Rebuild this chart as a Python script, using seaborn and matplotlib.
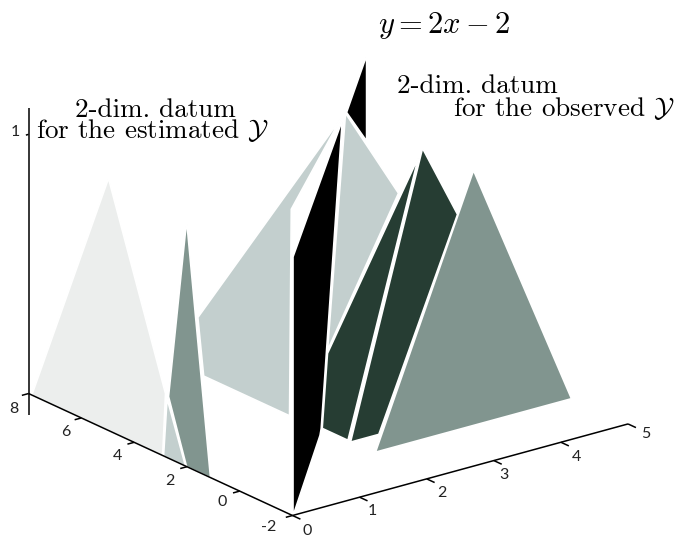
import matplotlib
matplotlib.use("Agg")
import matplotlib.pyplot as plt
import seaborn as sns
from mpl_toolkits.mplot3d import proj3d
from mpl_toolkits.mplot3d.art3d import Poly3DCollection

# ---- axis values
x_ticks = [0, 1, 2, 3, 4, 5]
y_ticks = [-2, 0, 2, 4, 6, 8]
z_ticks = [1]
z_span = [-0.084, 1.10]

# ---- polygon vertices (x, y, z)
black_top_x = [3.74, 5.14, 5.14]
black_top_y = [5.48, 8.28, 8.28]
black_top_z = [0.941, 0.93, 0.60]

mid_left_x = [2, 2, 2, 2, 2]
mid_left_y = [6.69, 1.246, 3.15, 3.216, 6.47]
mid_left_z = [0.216, 1.244, 0.80, 0.0, 0.0]

mid_right_x = [2, 2, 2]
mid_right_y = [1.095, -0.913, 1.777]
mid_right_z = [1.267, 1.053, 0.32]

pale_x = [0, 0, 0, 0]
pale_y = [7.9, 4.99, 2.83, 2.94]
pale_z = [0.0, 0.974, 0.245, 0.0]

mid_small_x = [0, 0, 0]
mid_small_y = [2.77, 2.07, 2.905]
mid_small_z = [0.229, 0.0, 0.0]

sage_narrow_x = [0, 0, 0, 0]
sage_narrow_y = [2.03, 2.716, 2.03, 1.125]
sage_narrow_z = [0.951, 0.239, 0.0, 0.0]

black_low_x = [0, 0, 3.44, 1.972, 1.888]
black_low_y = [-2, -2, 4.88, 1.944, 1.776]
black_low_z = [0.0, 1.0, 0.96, 0.013, 0.0]

dark_left_x = [2.05, 2.05, 2.05, 2.05]
dark_left_y = [-1.54, 1.905, 2.106, 1.13]
dark_left_z = [1.218, 0.299, 0.0, 0.0]

dark_right_x = [3.11, 3.632, 2.459, 2.037]
dark_right_y = [1, 1, 1, 1]
dark_right_z = [1.058, 0.766, 0.0, 0.0]

sage_x = [2.067, 3.528, 4.988]
sage_y = [0.13, 0.13, 0.13]
sage_z = [0.0, 0.984, 0.0]

# ---- colours
PALE = "#ECEEED"
MID = "#C3CFCE"
SAGE = "#81958F"
DARK = "#263D33"
BLACK = "#000000"

sns.set_theme(style="white")
plt.rcParams["mathtext.fontset"] = "cm"

W, H = 690, 536
fig = plt.figure(figsize=(W / 100, H / 100), dpi=100)
pos = [0, -(W - H) / 2 / H, 1, W / H]
ax = fig.add_axes(pos, projection="3d", proj_type="ortho", computed_zorder=False)
ax.set_xlim(0, 5, view_margin=0)
ax.set_ylim(-2, 8, view_margin=0)
ax.set_zlim(z_span[0], z_span[1], view_margin=0)
ax.view_init(elev=20.8, azim=232.46)
ax.set_axis_off()
ax.patch.set_alpha(0)
aspect = (423.1, 433.1, 328.2)


def to_px(x, y, z):
    X, Y, _ = proj3d.proj_transform(x, y, z, ax.get_proj())
    return ax.transData.transform((X, Y))


# fit the box to the figure
zoom = 1.0
for _ in range(2):
    ax.set_box_aspect(aspect, zoom=zoom)
    fig.canvas.draw()
    a, b = to_px(0, -2, 0), to_px(5, -2, 0)
    length = ((a - b) ** 2).sum() ** 0.5
    zoom *= 347.8 / length
ax.set_box_aspect(aspect, zoom=zoom)
fig.canvas.draw()
o = to_px(0, -2, 0)
pos[0] += (292.5 - o[0]) / W
pos[1] += (H - 515.5 - o[1]) / H
ax.set_position(pos)
fig.canvas.draw()

polys = [
    (black_top_x, black_top_y, black_top_z, BLACK),
    (mid_left_x, mid_left_y, mid_left_z, MID),
    (mid_right_x, mid_right_y, mid_right_z, MID),
    (pale_x, pale_y, pale_z, PALE),
    (mid_small_x, mid_small_y, mid_small_z, MID),
    (sage_narrow_x, sage_narrow_y, sage_narrow_z, SAGE),
    (black_low_x, black_low_y, black_low_z, BLACK),
    (dark_left_x, dark_left_y, dark_left_z, DARK),
    (dark_right_x, dark_right_y, dark_right_z, DARK),
    (sage_x, sage_y, sage_z, SAGE),
]
for i, (xs, ys, zs, c) in enumerate(polys):
    pc = Poly3DCollection([list(zip(xs, ys, zs))], facecolor=c, edgecolor="white",
                          linewidth=1.2, zorder=i + 1)
    ax.add_collection3d(pc, autolim=False)

# axes
line = dict(color="black", lw=1.1, zorder=30, solid_capstyle="butt")
ax.plot([0, 5], [-2, -2], [0, 0], **line)
ax.plot([0, 0], [-2, 8], [0, 0], **line)
ax.plot([0, 0], [8, 8], z_span, **line)
for v in x_ticks:
    ax.plot([v, v], [-2, -2.3], [0, 0], **line)
for v in y_ticks:
    ax.plot([0, -0.1], [v, v], [0, 0], **line)
for v in z_ticks:
    ax.plot([0, -0.04], [8, 8], [v, v], **line)

# tick labels
tick_font = dict(family="Lato", fontsize=11.5, color="#222222", ha="center", va="center")
x_label_px = [(307.3, 530.7), (372.7, 510.7), (441.7, 493.3), (504.3, 475), (576.7, 457.3), (646, 434)]
y_label_px = [(269, 526.7), (221.7, 501.7), (170, 480.7), (117.7, 455.7), (65.7, 431.7), (14, 409)]
z_label_px = [(15, 132)]
for vals, where in ((x_ticks, x_label_px), (y_ticks, y_label_px), (z_ticks, z_label_px)):
    for v, (px, py) in zip(vals, where):
        fig.text(px / W, 1 - py / H, str(v), **tick_font)

# annotations
serif = dict(family="cmr10", fontsize=19.5, color="black", ha="left", va="baseline")
notes = [
    ("2-dim. datum", 75, 116.7),
    (r"for the estimated $\mathcal{Y}$", 36, 137.7),
    ("2-dim. datum", 396.7, 93.3),
    (r"for the observed $\mathcal{Y}$", 453, 116),
]
for s, px, py in notes:
    fig.text(px / W, 1 - py / H, s, **serif)
fig.text(378 / W, 1 - 32.7 / H, r"$y=2x-2$", family="cmr10", fontsize=22, color="black",
         ha="left", va="baseline")

fig.savefig("out.png", dpi=100, facecolor="white")
